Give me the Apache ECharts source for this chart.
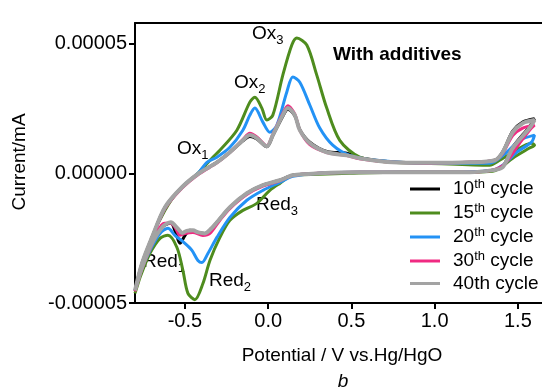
<!DOCTYPE html>
<html>
<head>
<meta charset="utf-8">
<script src="https://cdn.jsdelivr.net/npm/echarts@6/dist/echarts.min.js"></script>
<style>html,body{margin:0;padding:0;background:#fff}#c{width:542px;height:390px}</style>
</head>
<body>
<div id="c"></div>
<script>
// ---- data (potential in V, current in mA) ----
const seriesNames = ['10th cycle', '15th cycle', '20th cycle', '30th cycle', '40th cycle'];
const xTicks = [-0.5, 0, 0.5, 1.0, 1.5];
const yTicks = [-0.00005, 0, 0.00005];

const E10 = [-0.800,-0.758,-0.698,-0.620,-0.518,-0.416,-0.308,-0.230,-0.152,-0.110,-0.068,-0.008,0.028,0.088,0.118,0.160,0.190,0.250,0.352,0.472,0.550,0.748,0.952,1.211,1.361,1.409,1.469,1.529,1.600,1.570,1.469,1.409,1.349,1.211,0.790,0.550,0.310,0.148,0.070,-0.032,-0.128,-0.230,-0.308,-0.340,-0.380,-0.420,-0.470,-0.500,-0.530,-0.555,-0.585,-0.632,-0.698,-0.758,-0.800];
const I10 = [-4.52e-5,-3.47e-5,-2.47e-5,-1.31e-5,-0.54e-5,0.00e-5,0.42e-5,0.81e-5,1.25e-5,1.42e-5,1.32e-5,1.02e-5,1.45e-5,2.20e-5,2.47e-5,2.22e-5,1.68e-5,1.20e-5,0.84e-5,0.77e-5,0.60e-5,0.43e-5,0.40e-5,0.42e-5,0.50e-5,0.83e-5,1.62e-5,1.97e-5,2.10e-5,1.80e-5,1.00e-5,0.25e-5,0.12e-5,0.04e-5,0.04e-5,0.04e-5,0.00e-5,-0.08e-5,-0.27e-5,-0.46e-5,-0.77e-5,-1.31e-5,-1.89e-5,-2.12e-5,-2.32e-5,-2.28e-5,-2.20e-5,-2.40e-5,-2.70e-5,-2.30e-5,-1.92e-5,-2.05e-5,-2.70e-5,-3.63e-5,-4.52e-5];

const E15 = [-0.800,-0.758,-0.698,-0.620,-0.536,-0.416,-0.332,-0.290,-0.188,-0.110,-0.080,-0.038,-0.008,0.028,0.088,0.142,0.172,0.232,0.292,0.352,0.430,0.550,0.748,0.952,1.331,1.391,1.469,1.582,1.600,1.570,1.469,1.391,1.349,1.090,0.790,0.490,0.310,0.148,0.070,0.010,-0.068,-0.152,-0.230,-0.290,-0.350,-0.392,-0.440,-0.482,-0.512,-0.548,-0.602,-0.650,-0.710,-0.770,-0.800];
const I15 = [-4.63e-5,-3.75e-5,-2.47e-5,-1.43e-5,-0.66e-5,0.04e-5,0.62e-5,0.89e-5,1.66e-5,2.74e-5,2.93e-5,2.51e-5,2.05e-5,2.24e-5,3.78e-5,4.94e-5,5.21e-5,4.94e-5,3.78e-5,2.51e-5,1.27e-5,0.62e-5,0.42e-5,0.39e-5,0.31e-5,0.50e-5,0.81e-5,1.16e-5,1.08e-5,0.97e-5,0.58e-5,0.19e-5,0.08e-5,0.04e-5,0.04e-5,0.00e-5,-0.04e-5,-0.08e-5,-0.39e-5,-0.66e-5,-1.16e-5,-1.43e-5,-1.81e-5,-2.47e-5,-3.36e-5,-4.25e-5,-4.87e-5,-4.63e-5,-3.75e-5,-2.86e-5,-2.39e-5,-2.51e-5,-3.09e-5,-4.02e-5,-4.63e-5];

const E20 = [-0.800,-0.758,-0.698,-0.620,-0.518,-0.416,-0.368,-0.308,-0.230,-0.152,-0.110,-0.080,-0.032,0.010,0.052,0.112,0.148,0.190,0.250,0.310,0.388,0.490,0.652,0.952,1.331,1.433,1.511,1.600,1.582,1.493,1.409,1.349,1.090,0.550,0.310,0.148,0.070,-0.032,-0.128,-0.230,-0.308,-0.362,-0.398,-0.422,-0.458,-0.500,-0.560,-0.602,-0.650,-0.710,-0.770,-0.800];
const I20 = [-4.52e-5,-3.55e-5,-2.51e-5,-1.35e-5,-0.54e-5,0.04e-5,0.42e-5,0.62e-5,1.00e-5,1.66e-5,2.24e-5,2.51e-5,1.97e-5,1.58e-5,1.85e-5,3.13e-5,3.71e-5,3.51e-5,2.63e-5,1.74e-5,1.08e-5,0.69e-5,0.50e-5,0.39e-5,0.39e-5,0.81e-5,1.27e-5,1.47e-5,1.20e-5,0.81e-5,0.31e-5,0.12e-5,0.04e-5,0.04e-5,0.00e-5,-0.12e-5,-0.35e-5,-0.66e-5,-1.04e-5,-1.70e-5,-2.47e-5,-3.09e-5,-3.44e-5,-3.36e-5,-2.97e-5,-2.70e-5,-2.39e-5,-2.12e-5,-2.32e-5,-2.97e-5,-3.86e-5,-4.52e-5];

const E30 = [-0.800,-0.758,-0.698,-0.620,-0.518,-0.416,-0.308,-0.230,-0.152,-0.110,-0.068,-0.008,0.028,0.088,0.118,0.160,0.190,0.250,0.352,0.472,0.550,0.748,0.952,1.211,1.361,1.409,1.469,1.529,1.600,1.570,1.511,1.420,1.349,1.211,0.790,0.550,0.310,0.148,0.070,-0.032,-0.128,-0.230,-0.290,-0.350,-0.392,-0.452,-0.500,-0.530,-0.560,-0.590,-0.632,-0.698,-0.758,-0.800];
const I30 = [-4.55e-5,-3.52e-5,-2.52e-5,-1.36e-5,-0.58e-5,-0.03e-5,0.40e-5,0.80e-5,1.30e-5,1.54e-5,1.40e-5,1.06e-5,1.50e-5,2.30e-5,2.60e-5,2.28e-5,1.66e-5,1.10e-5,0.80e-5,0.68e-5,0.56e-5,0.42e-5,0.39e-5,0.42e-5,0.50e-5,0.77e-5,1.45e-5,1.74e-5,1.85e-5,1.66e-5,1.16e-5,0.35e-5,0.12e-5,0.04e-5,0.04e-5,0.04e-5,0.00e-5,-0.09e-5,-0.29e-5,-0.50e-5,-0.82e-5,-1.36e-5,-1.81e-5,-2.32e-5,-2.40e-5,-2.28e-5,-2.32e-5,-2.39e-5,-2.08e-5,-1.92e-5,-1.95e-5,-2.74e-5,-3.68e-5,-4.55e-5];

const E40 = [-0.800,-0.758,-0.698,-0.620,-0.518,-0.416,-0.308,-0.230,-0.152,-0.110,-0.068,-0.008,0.028,0.088,0.118,0.160,0.190,0.250,0.352,0.472,0.550,0.748,0.952,1.211,1.361,1.409,1.469,1.529,1.600,1.570,1.469,1.409,1.349,1.211,0.790,0.550,0.310,0.148,0.070,-0.032,-0.128,-0.230,-0.308,-0.340,-0.380,-0.420,-0.452,-0.490,-0.515,-0.545,-0.585,-0.632,-0.698,-0.758,-0.800];
const I40 = [-4.52e-5,-3.47e-5,-2.47e-5,-1.31e-5,-0.54e-5,0.00e-5,0.42e-5,0.81e-5,1.27e-5,1.47e-5,1.35e-5,1.04e-5,1.47e-5,2.24e-5,2.51e-5,2.24e-5,1.66e-5,1.16e-5,0.81e-5,0.69e-5,0.58e-5,0.42e-5,0.40e-5,0.42e-5,0.50e-5,0.81e-5,1.58e-5,1.93e-5,2.05e-5,1.74e-5,0.97e-5,0.23e-5,0.12e-5,0.04e-5,0.04e-5,0.04e-5,0.00e-5,-0.08e-5,-0.27e-5,-0.46e-5,-0.77e-5,-1.31e-5,-1.89e-5,-2.12e-5,-2.32e-5,-2.28e-5,-2.20e-5,-2.22e-5,-2.30e-5,-2.12e-5,-1.89e-5,-2.05e-5,-2.70e-5,-3.63e-5,-4.52e-5];

const seriesE = [E10, E15, E20, E30, E40];
const seriesI = [I10, I15, I20, I30, I40];
const colors = ['#000000', '#4e8c1e', '#2392f5', '#f02a82', '#a3a3a3'];
const widths = [3, 3, 3, 3, 4];

const chart = echarts.init(document.getElementById('c'), null, {renderer: 'canvas'});
const FONT = 'Liberation Sans, Arial, sans-serif';

function pairs(E, I) { return E.map((e, k) => [e, I[k]]); }

function legendFmt(name) {
  const m = name.match(/^(\d+)th cycle$/);
  if (m && name !== '40th cycle') return '{a|' + m[1] + '}{s|th}{a| cycle}';
  return '{a|' + name + '}';
}

function annRich() {
  return {
    a: {fontSize: 19, fontFamily: FONT, fill: '#000', lineHeight: 26, verticalAlign: 'middle'},
    s: {fontSize: 13, fontFamily: FONT, fill: '#000', lineHeight: 26, verticalAlign: 'bottom'}
  };
}

const option = {
  animation: false,
  backgroundColor: '#ffffff',
  grid: {left: 135, right: 0, top: 23, bottom: 87, containLabel: false, outerBoundsMode: 'none'},
  xAxis: [{
    type: 'value', min: -0.8, max: 1.645,
    axisLine: {show: true, onZero: false, lineStyle: {color: '#000', width: 2}},
    axisTick: {show: true, length: 6, lineStyle: {color: '#000', width: 2}, customValues: xTicks},
    axisLabel: {customValues: xTicks, color: '#000', fontSize: 20, fontFamily: FONT, margin: 8,
      formatter: v => (Math.abs(v) < 1e-9 ? '0.0' : v.toFixed(1))},
    splitLine: {show: false}
  }, {
    type: 'value', position: 'top', min: -0.8, max: 1.645,
    axisLine: {show: true, onZero: false, lineStyle: {color: '#000', width: 2}},
    axisTick: {show: false}, axisLabel: {show: false}, splitLine: {show: false}
  }],
  yAxis: {
    type: 'value', min: -0.00005, max: 0.0000579,
    axisLine: {show: true, onZero: false, lineStyle: {color: '#000', width: 2}},
    axisTick: {show: true, length: 6, lineStyle: {color: '#000', width: 2}, customValues: yTicks},
    axisLabel: {customValues: yTicks, color: '#000', fontSize: 20, fontFamily: FONT, margin: 8,
      formatter: v => (Math.abs(v) < 1e-12 ? '0.00000' : v.toFixed(5))},
    splitLine: {show: false}
  },
  legend: {
    orient: 'vertical', left: 410, top: 178,
    itemWidth: 30, itemHeight: 3, icon: 'rect', itemGap: 3.5,
    data: seriesNames,
    formatter: legendFmt,
    textStyle: {
      color: '#000', fontFamily: FONT, padding: [0, 0, 0, 8],
      rich: {
        a: {fontSize: 19, fontFamily: FONT, color: '#000', lineHeight: 22, verticalAlign: 'middle'},
        s: {fontSize: 13, fontFamily: FONT, color: '#000', lineHeight: 22, verticalAlign: 'top'}
      }
    },
    padding: 0
  },
  series: seriesNames.map((n, k) => ({
    name: n, type: 'line', data: pairs(seriesE[k], seriesI[k]),
    showSymbol: false, symbol: 'none', smooth: 0.3,
    color: colors[k],
    lineStyle: {color: colors[k], width: widths[k]},
    z: 2 + k
  })),
  graphic: [
    {type: 'text', left: 252, top: 24, style: {text: '{a|Ox}{s|3}', rich: annRich()}},
    {type: 'text', left: 234, top: 73, style: {text: '{a|Ox}{s|2}', rich: annRich()}},
    {type: 'text', left: 177, top: 139, style: {text: '{a|Ox}{s|1}', rich: annRich()}},
    {type: 'text', left: 256, top: 195, style: {text: '{a|Red}{s|3}', rich: annRich()}},
    {type: 'text', left: 143, top: 252, style: {text: '{a|Red}{s|1}', rich: annRich()}},
    {type: 'text', left: 209, top: 271, style: {text: '{a|Red}{s|2}', rich: annRich()}},
    {type: 'text', left: 333, top: 45, style: {text: 'With additives', fontSize: 19, fontWeight: 'bold', fontFamily: FONT, fill: '#000'}},
    {type: 'text', x: 20, y: 162, rotation: Math.PI / 2, style: {text: 'Current/mA', fontSize: 19, fontFamily: FONT, fill: '#000', align: 'center', verticalAlign: 'middle'}},
    {type: 'text', x: 342, y: 356, style: {text: 'Potential / V vs.Hg/HgO', fontSize: 19, fontFamily: FONT, fill: '#000', align: 'center', verticalAlign: 'middle'}},
    {type: 'text', x: 343, y: 382, style: {text: 'b', fontSize: 19, fontStyle: 'italic', fontFamily: FONT, fill: '#000', align: 'center', verticalAlign: 'middle'}}
  ]
};
chart.setOption(option);
</script>
</body>
</html>
